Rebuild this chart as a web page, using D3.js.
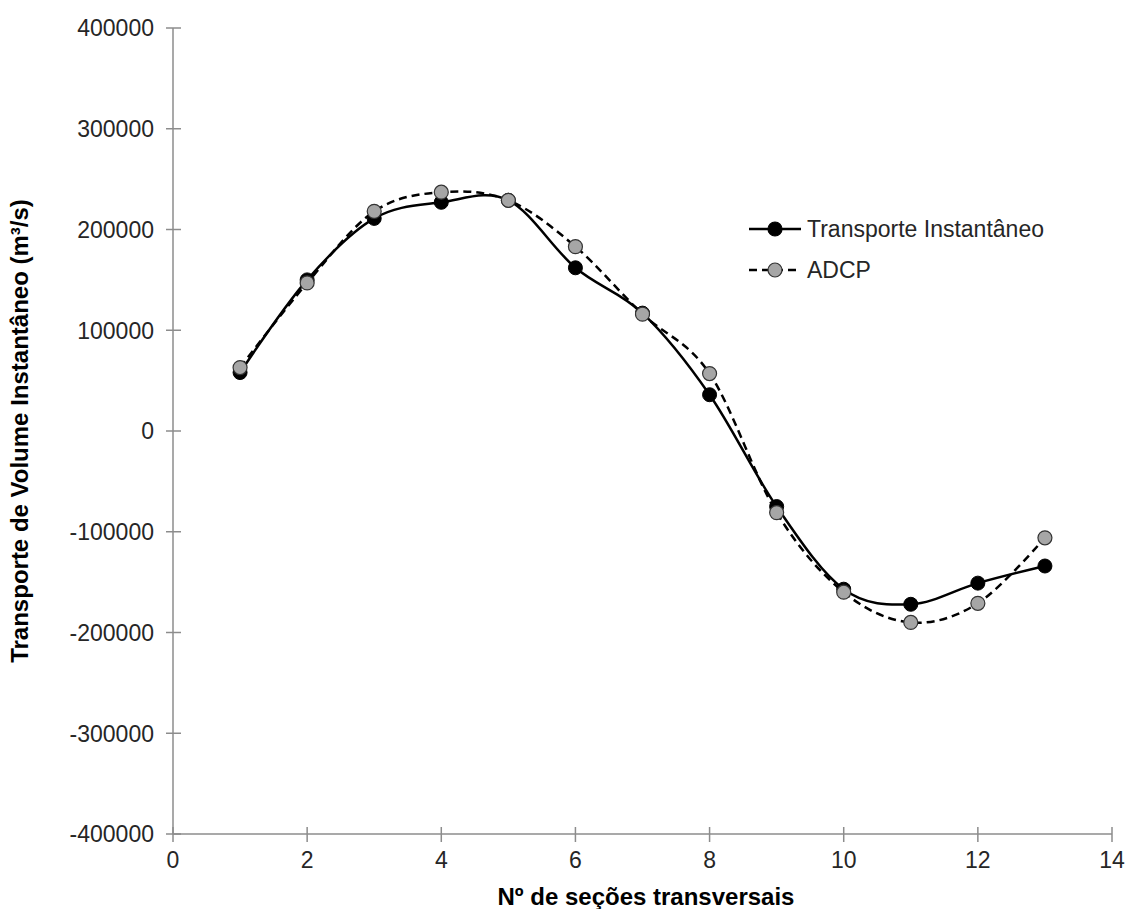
<!DOCTYPE html>
<html>
<head>
<meta charset="utf-8">
<script src="https://cdn.jsdelivr.net/npm/d3@7"></script>
<style>
  html, body { margin: 0; padding: 0; background: #fff; }
  svg { display: block; font-family: "Liberation Sans", Arial, sans-serif; }
</style>
</head>
<body>
<svg id="chart" width="1128" height="909"></svg>
<script>
const sections = [1, 2, 3, 4, 5, 6, 7, 8, 9, 10, 11, 12, 13];
const transporte = [58000, 150000, 211000, 227000, 229000, 162000, 117000, 36000, -75000, -157000, -172000, -151000, -134000];
const adcp = [63000, 147000, 218000, 237000, 229000, 183000, 116000, 57000, -81000, -160000, -190000, -171000, -106000];
const xTicks = [0, 2, 4, 6, 8, 10, 12, 14];
const yTicks = [-400000, -300000, -200000, -100000, 0, 100000, 200000, 300000, 400000];
const seriesNames = ["Transporte Instantâneo", "ADCP"];
const xTitle = "Nº de seções transversais";
const yTitle = "Transporte de Volume Instantâneo (m³/s)";

const svg = d3.select("#chart");
const x = d3.scaleLinear().domain([0, 14]).range([173, 1112]);
const y = d3.scaleLinear().domain([-400000, 400000]).range([834, 28]);
const axisColor = "#8c8c8c";
const fontSize = 23;
const titleSize = 24;

// Y axis
const yAxis = svg.append("g").attr("transform", `translate(${x(0)},0)`);
yAxis.append("line").attr("x1", 0).attr("x2", 0).attr("y1", y(400000)).attr("y2", y(-400000))
  .attr("stroke", axisColor).attr("stroke-width", 1.5);
yTicks.forEach(t => {
  yAxis.append("line").attr("x1", -7).attr("x2", 8).attr("y1", y(t)).attr("y2", y(t))
    .attr("stroke", axisColor).attr("stroke-width", 1.5);
  yAxis.append("text").attr("x", -19).attr("y", y(t)).attr("dy", "0.36em")
    .attr("text-anchor", "end").attr("font-size", fontSize).attr("fill", "#262626")
    .text(d3.format("d")(t).replace("−", "-"));
});

// X axis
const xAxis = svg.append("g").attr("transform", `translate(0,${y(-400000)})`);
xAxis.append("line").attr("x1", x(0)).attr("x2", x(14)).attr("y1", 0).attr("y2", 0)
  .attr("stroke", axisColor).attr("stroke-width", 1.5);
xTicks.forEach(t => {
  xAxis.append("line").attr("x1", x(t)).attr("x2", x(t)).attr("y1", -7).attr("y2", 8)
    .attr("stroke", axisColor).attr("stroke-width", 1.5);
  xAxis.append("text").attr("x", x(t)).attr("y", 34)
    .attr("text-anchor", "middle").attr("font-size", fontSize).attr("fill", "#262626")
    .text(t);
});

// Titles
svg.append("text").attr("x", 646).attr("y", 905).attr("text-anchor", "middle")
  .attr("font-size", titleSize).attr("font-weight", "bold").attr("fill", "#000").text(xTitle);
svg.append("text").attr("transform", `translate(28,${y(0)}) rotate(-90)`).attr("text-anchor", "middle")
  .attr("font-size", titleSize).attr("font-weight", "bold").attr("fill", "#000").text(yTitle);

// Lines
const line = d3.line().x((d, i) => x(sections[i])).y(d => y(d)).curve(d3.curveCatmullRom.alpha(0));

svg.append("path").datum(adcp).attr("d", line).attr("fill", "none")
  .attr("stroke", "#000").attr("stroke-width", 2.5).attr("stroke-dasharray", "8,5");
svg.append("path").datum(transporte).attr("d", line).attr("fill", "none")
  .attr("stroke", "#000").attr("stroke-width", 2.5);

// Markers
svg.append("g").selectAll("circle").data(transporte).join("circle")
  .attr("cx", (d, i) => x(sections[i])).attr("cy", d => y(d)).attr("r", 7)
  .attr("fill", "#000").attr("stroke", "#000").attr("stroke-width", 1);
svg.append("g").selectAll("circle").data(adcp).join("circle")
  .attr("cx", (d, i) => x(sections[i])).attr("cy", d => y(d)).attr("r", 7)
  .attr("fill", "#a6a6a6").attr("stroke", "#333").attr("stroke-width", 1.2);

// Legend
const legend = svg.append("g");
const legendRows = [
  { name: seriesNames[0], fill: "#000", stroke: "#000", dash: null, y: 229 },
  { name: seriesNames[1], fill: "#a6a6a6", stroke: "#333", dash: "8,5", y: 270 }
];
legendRows.forEach(r => {
  legend.append("line").attr("x1", 749).attr("x2", 801).attr("y1", r.y).attr("y2", r.y)
    .attr("stroke", "#000").attr("stroke-width", 2.5).attr("stroke-dasharray", r.dash);
  legend.append("circle").attr("cx", 775).attr("cy", r.y).attr("r", 7)
    .attr("fill", r.fill).attr("stroke", r.stroke).attr("stroke-width", 1.2);
  legend.append("text").attr("x", 807).attr("y", r.y).attr("dy", "0.36em")
    .attr("font-size", fontSize).attr("fill", "#262626").text(r.name);
});
</script>
</body>
</html>
